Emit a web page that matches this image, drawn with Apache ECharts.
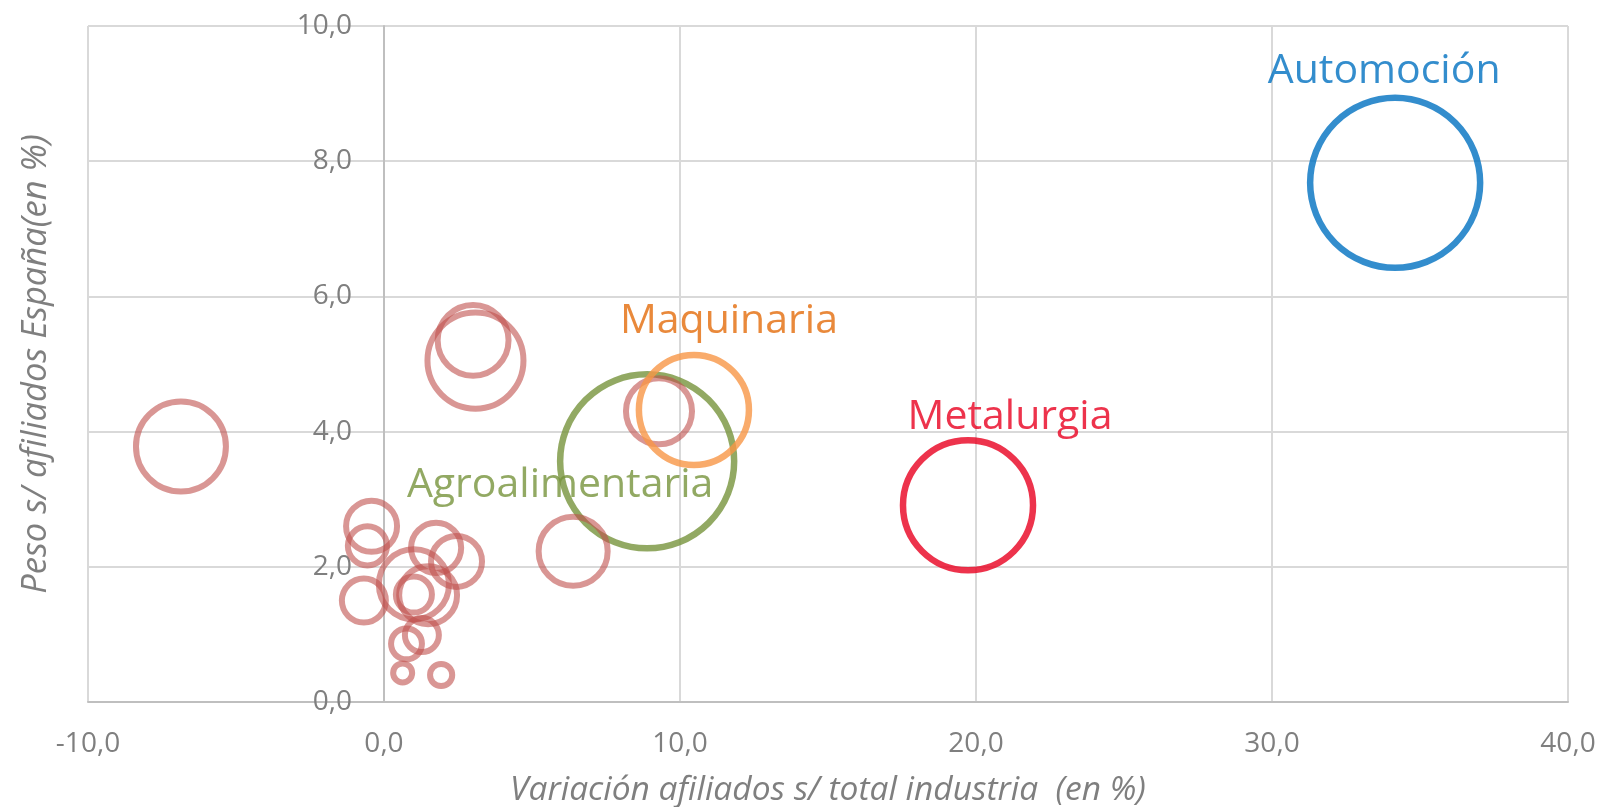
<!DOCTYPE html>
<html>
<head>
<meta charset="utf-8">
<title>Burbujas sectores</title>
<script src="https://cdn.jsdelivr.net/npm/echarts/dist/echarts.min.js"></script>
<style>
  html, body { margin: 0; padding: 0; background: #fff; }
  #myChart { width: 1599px; height: 807px; }
</style>
</head>
<body>
<div id="myChart"></div>
<script>
  // datos: resto de sectores (burbujas rojas)
  const otrosX = [-6.86, 3.01, 3.09, 9.29, 6.39, -0.42, -0.56, -0.68, 1.76, 2.45, 1.01, 1.49, 1.01, 1.28, 0.76, 0.63, 1.93]
  const otrosY = [3.78, 5.35, 5.05, 4.30, 2.23, 2.60, 2.31, 1.50, 2.28, 2.08, 1.74, 1.58, 1.59, 0.99, 0.86, 0.43, 0.40]
  const otrosSize = [28.0, 17.4, 31.9, 15.1, 16.5, 9.0, 5.3, 6.7, 8.7, 9.0, 17.0, 11.6, 4.5, 4.0, 3.3, 1.25, 1.7]

  // sectores destacados
  const sectores = ['Automoción', 'Agroalimentaria', 'Metalurgia', 'Maquinaria']
  const sectorX = [34.16, 8.89, 19.73, 10.47]
  const sectorY = [7.68, 3.56, 2.91, 4.32]
  const sectorSize = [100, 104.8, 58.5, 41.9]

  const xTicks = [-10, 0, 10, 20, 30, 40]
  const yTicks = [0, 2, 4, 6, 8, 10]

  const fontFamily = '"Open Sans", "Noto Sans", sans-serif'
  const fmt = v => v.toFixed(1).replace('.', ',')
  // area proporcional al tamaño
  const bubble = v => 170 * Math.sqrt(v[2] / 100)

  const estilos = {
    'Automoción': { color: '#0070C0', label: '#0070C0', offset: [-11, -112] },
    'Agroalimentaria': { color: '#77933C', label: '#77933C', offset: [-87, 24] },
    'Metalurgia': { color: '#E8001F', label: '#E8001F', offset: [42, -88] },
    'Maquinaria': { color: '#F79646', label: '#E46C0A', offset: [35, -89] }
  }

  function sectorSeries(i) {
    let nombre = sectores[i]
    let st = estilos[nombre]
    return {
      name: nombre,
      type: 'scatter',
      symbol: 'circle',
      symbolSize: bubble,
      data: [[sectorX[i], sectorY[i], sectorSize[i]]],
      itemStyle: {
        color: 'rgba(0,0,0,0)',
        borderColor: st.color,
        borderWidth: 6.5
      },
      label: {
        show: true,
        position: 'inside',
        offset: st.offset,
        formatter: nombre,
        color: st.label,
        fontSize: 41,
        fontFamily: fontFamily
      },
      emphasis: { disabled: true },
      animation: false
    }
  }

  let myChart = echarts.init(document.getElementById('myChart'))
  myChart.setOption({
    backgroundColor: '#fff',
    grid: {
      left: 88,
      right: 31,
      top: 26,
      bottom: 105,
      containLabel: false,
      outerBoundsMode: 'none'
    },
    xAxis: {
      type: 'value',
      min: xTicks[0],
      max: xTicks[xTicks.length - 1],
      interval: 10,
      name: 'Variación afiliados s/ total industria  (en %)',
      nameLocation: 'middle',
      nameGap: 71,
      nameTextStyle: { color: '#7F7F7F', fontSize: 33.5, fontStyle: 'italic', fontFamily: fontFamily },
      axisLine: { show: true, onZero: true, lineStyle: { color: '#BFBFBF', width: 2 } },
      axisTick: { show: false },
      axisLabel: { color: '#7F7F7F', fontSize: 28, fontFamily: fontFamily, margin: 28, formatter: fmt },
      splitLine: { show: true, lineStyle: { color: '#D9D9D9', width: 2 } }
    },
    yAxis: {
      type: 'value',
      position: 'left',
      // el eje vertical cruza en x = 0
      offset: -296,
      min: yTicks[0],
      max: yTicks[yTicks.length - 1],
      interval: 2,
      name: 'Peso s/ afiliados España(en %)',
      nameLocation: 'middle',
      nameGap: 330,
      nameTextStyle: { color: '#7F7F7F', fontSize: 34.5, fontStyle: 'italic', fontFamily: fontFamily },
      axisLine: { show: true, onZero: false, lineStyle: { color: '#BFBFBF', width: 2 } },
      axisTick: { show: false },
      axisLabel: { color: '#7F7F7F', fontSize: 28, fontFamily: fontFamily, margin: 32, formatter: fmt },
      splitLine: { show: true, lineStyle: { color: '#D9D9D9', width: 2 } }
    },
    series: [
      sectorSeries(1),
      sectorSeries(2),
      sectorSeries(0),
      {
        name: 'Otros',
        type: 'scatter',
        symbol: 'circle',
        symbolSize: bubble,
        data: otrosX.map((x, i) => [x, otrosY[i], otrosSize[i]]),
        itemStyle: {
          color: 'rgba(0,0,0,0)',
          borderColor: 'rgba(192,80,77,0.75)',
          borderWidth: 6
        },
        emphasis: { disabled: true },
        animation: false
      },
      sectorSeries(3)
    ]
  })
</script>
</body>
</html>
